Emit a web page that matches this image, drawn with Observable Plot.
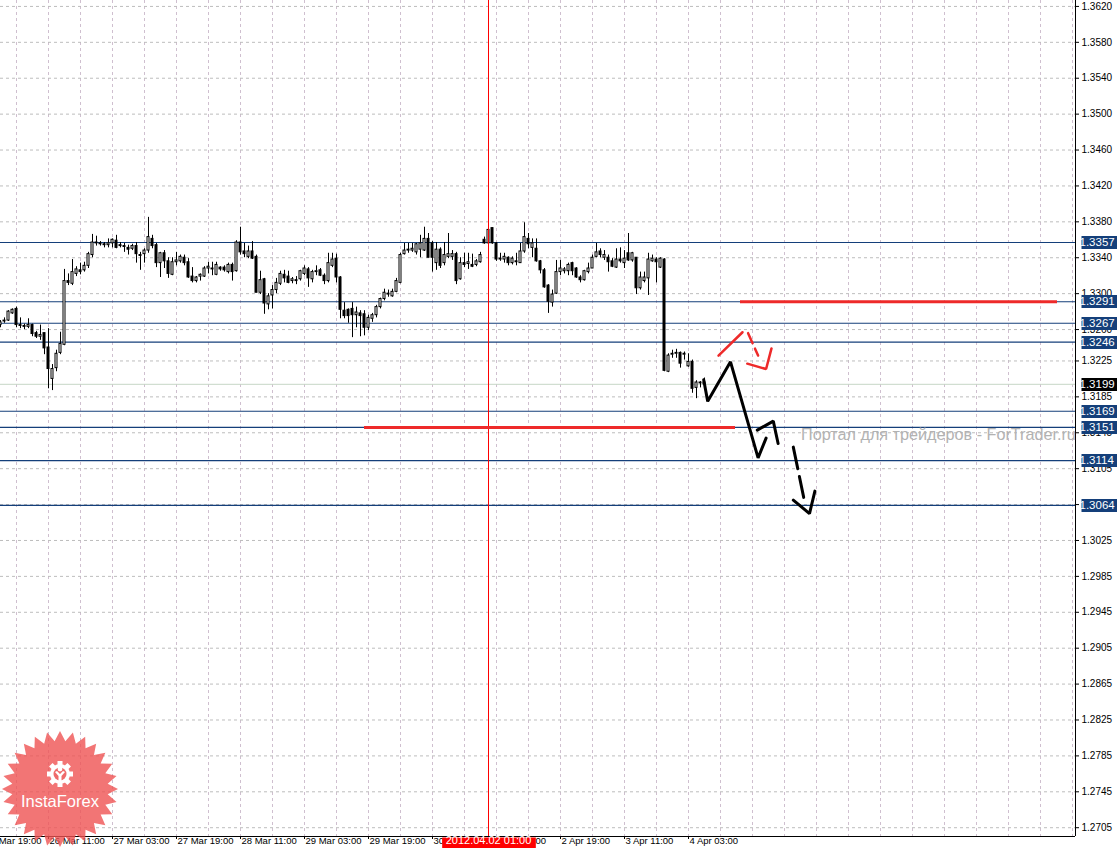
<!DOCTYPE html>
<html><head><meta charset="utf-8">
<script src="https://cdn.jsdelivr.net/npm/d3@7"></script>
<script src="https://cdn.jsdelivr.net/npm/@observablehq/plot@0.6"></script>
<style>
html,body{margin:0;padding:0;background:#fff;}
#wrap{position:relative;width:1117px;height:848px;overflow:hidden;background:#fff;}
#chart svg{display:block;}
#wm{position:absolute;left:801px;top:425px;font:16.2px "Liberation Sans",Arial,sans-serif;color:#b2b2b2;white-space:nowrap;pointer-events:none;}
#logo{position:absolute;left:0;top:726px;}
</style></head><body>
<div id="wrap"><div id="chart"></div><div id="wm">Портал для трейдеров - ForTrader.ru</div><svg id="logo"></svg></div>
<script>
// ---- H1 candles (bar index 0..176), prices ----
const open  = [1.3265,1.3270,1.3270,1.3278,1.3283,1.3265,1.3264,1.3263,1.3265,1.3256,1.3252,1.3256,1.3240,1.3205,1.3217,1.3234,1.3243,1.3314,1.3311,1.3322,1.3326,1.3326,1.3331,1.3343,1.3357,1.3356,1.3355,1.3354,1.3356,1.3359,1.3354,1.3353,1.3351,1.3350,1.3353,1.3343,1.3344,1.3348,1.3361,1.3354,1.3334,1.3345,1.3336,1.3321,1.3335,1.3336,1.3340,1.3335,1.3319,1.3314,1.3319,1.3319,1.3328,1.3328,1.3321,1.3329,1.3329,1.3324,1.3332,1.3325,1.3357,1.3347,1.3341,1.3347,1.3341,1.3301,1.3316,1.3288,1.3298,1.3304,1.3311,1.3321,1.3319,1.3314,1.3315,1.3316,1.3322,1.3327,1.3316,1.3324,1.3326,1.3320,1.3314,1.3331,1.3339,1.3318,1.3281,1.3282,1.3283,1.3276,1.3278,1.3277,1.3262,1.3272,1.3276,1.3285,1.3294,1.3300,1.3297,1.3302,1.3312,1.3344,1.3348,1.3348,1.3346,1.3349,1.3348,1.3361,1.3356,1.3334,1.3349,1.3334,1.3341,1.3341,1.3344,1.3316,1.3334,1.3333,1.3332,1.3332,1.3335,1.3360,1.3356,1.3373,1.3356,1.3338,1.3338,1.3340,1.3334,1.3336,1.3334,1.3347,1.3361,1.3351,1.3350,1.3336,1.3326,1.3309,1.3290,1.3300,1.3324,1.3325,1.3325,1.3334,1.3328,1.3318,1.3315,1.3324,1.3328,1.3341,1.3347,1.3340,1.3340,1.3336,1.3329,1.3338,1.3334,1.3345,1.3337,1.3340,1.3306,1.3314,1.3317,1.3336,1.3338,1.3329,1.3338,1.3213,1.3232,1.3233,1.3234,1.3232,1.3219,1.3224,1.3195,1.3200,1.3201];
const high  = [1.3270,1.3273,1.3281,1.3283,1.3285,1.3273,1.3266,1.3272,1.3266,1.3258,1.3265,1.3256,1.3261,1.3221,1.3237,1.3257,1.3327,1.3322,1.3338,1.3330,1.3334,1.3335,1.3346,1.3366,1.3364,1.3358,1.3357,1.3361,1.3361,1.3365,1.3357,1.3356,1.3354,1.3355,1.3357,1.3346,1.3350,1.3385,1.3365,1.3356,1.3346,1.3348,1.3340,1.3340,1.3346,1.3343,1.3343,1.3339,1.3329,1.3319,1.3322,1.3330,1.3335,1.3335,1.3335,1.3330,1.3331,1.3334,1.3334,1.3359,1.3374,1.3356,1.3353,1.3358,1.3343,1.3325,1.3317,1.3300,1.3309,1.3317,1.3325,1.3326,1.3325,1.3318,1.3319,1.3326,1.3331,1.3329,1.3326,1.3331,1.3328,1.3322,1.3345,1.3345,1.3344,1.3319,1.3290,1.3283,1.3290,1.3285,1.3281,1.3281,1.3276,1.3278,1.3287,1.3295,1.3305,1.3304,1.3305,1.3317,1.3345,1.3356,1.3356,1.3356,1.3356,1.3365,1.3374,1.3367,1.3358,1.3357,1.3351,1.3357,1.3367,1.3348,1.3346,1.3340,1.3345,1.3345,1.3344,1.3338,1.3346,1.3363,1.3375,1.3373,1.3357,1.3345,1.3345,1.3341,1.3341,1.3345,1.3356,1.3379,1.3367,1.3361,1.3361,1.3337,1.3328,1.3310,1.3304,1.3337,1.3337,1.3329,1.3334,1.3335,1.3329,1.3320,1.3326,1.3334,1.3343,1.3356,1.3350,1.3348,1.3343,1.3339,1.3350,1.3351,1.3348,1.3367,1.3346,1.3340,1.3324,1.3324,1.3345,1.3343,1.3340,1.3340,1.3339,1.3233,1.3237,1.3238,1.3235,1.3235,1.3233,1.3226,1.3203,1.3202,1.3206];
const low   = [1.3262,1.3267,1.3269,1.3277,1.3262,1.3261,1.3260,1.3261,1.3252,1.3250,1.3248,1.3232,1.3194,1.3192,1.3213,1.3232,1.3242,1.3309,1.3309,1.3319,1.3321,1.3324,1.3328,1.3340,1.3353,1.3353,1.3351,1.3351,1.3351,1.3350,1.3351,1.3346,1.3343,1.3348,1.3334,1.3326,1.3334,1.3345,1.3350,1.3329,1.3318,1.3328,1.3317,1.3320,1.3331,1.3334,1.3331,1.3317,1.3312,1.3312,1.3314,1.3318,1.3322,1.3320,1.3320,1.3325,1.3324,1.3322,1.3314,1.3324,1.3343,1.3340,1.3339,1.3338,1.3301,1.3299,1.3277,1.3282,1.3283,1.3300,1.3309,1.3312,1.3311,1.3311,1.3310,1.3314,1.3320,1.3307,1.3312,1.3320,1.3319,1.3310,1.3312,1.3329,1.3312,1.3272,1.3272,1.3267,1.3251,1.3262,1.3252,1.3253,1.3259,1.3268,1.3273,1.3283,1.3292,1.3296,1.3296,1.3301,1.3311,1.3343,1.3345,1.3346,1.3343,1.3340,1.3347,1.3340,1.3324,1.3326,1.3328,1.3331,1.3339,1.3337,1.3310,1.3315,1.3329,1.3327,1.3329,1.3330,1.3334,1.3355,1.3354,1.3355,1.3336,1.3336,1.3334,1.3331,1.3332,1.3331,1.3334,1.3345,1.3350,1.3340,1.3335,1.3322,1.3306,1.3278,1.3285,1.3299,1.3320,1.3322,1.3320,1.3320,1.3317,1.3312,1.3314,1.3322,1.3328,1.3340,1.3340,1.3337,1.3324,1.3329,1.3328,1.3334,1.3328,1.3336,1.3335,1.3299,1.3304,1.3312,1.3298,1.3335,1.3312,1.3328,1.3213,1.3212,1.3228,1.3228,1.3217,1.3226,1.3218,1.3189,1.3183,1.3195,1.3192];
const close = [1.3268,1.3269,1.3280,1.3282,1.3265,1.3264,1.3263,1.3265,1.3255,1.3252,1.3254,1.3239,1.3216,1.3216,1.3233,1.3244,1.3314,1.3312,1.3324,1.3327,1.3324,1.3331,1.3344,1.3357,1.3356,1.3355,1.3354,1.3356,1.3360,1.3351,1.3353,1.3352,1.3349,1.3353,1.3344,1.3342,1.3348,1.3363,1.3353,1.3334,1.3345,1.3336,1.3322,1.3335,1.3337,1.3341,1.3334,1.3318,1.3314,1.3318,1.3321,1.3328,1.3330,1.3327,1.3332,1.3327,1.3326,1.3332,1.3324,1.3357,1.3346,1.3344,1.3347,1.3339,1.3301,1.3315,1.3289,1.3297,1.3304,1.3312,1.3322,1.3317,1.3312,1.3316,1.3314,1.3325,1.3328,1.3317,1.3324,1.3325,1.3320,1.3314,1.3334,1.3338,1.3318,1.3282,1.3275,1.3275,1.3276,1.3279,1.3275,1.3262,1.3273,1.3276,1.3285,1.3294,1.3301,1.3299,1.3302,1.3314,1.3343,1.3348,1.3349,1.3350,1.3355,1.3356,1.3361,1.3340,1.3340,1.3349,1.3331,1.3343,1.3344,1.3344,1.3314,1.3334,1.3332,1.3335,1.3330,1.3336,1.3343,1.3356,1.3371,1.3356,1.3338,1.3339,1.3341,1.3334,1.3339,1.3335,1.3347,1.3363,1.3355,1.3356,1.3336,1.3326,1.3307,1.3291,1.3299,1.3324,1.3328,1.3327,1.3332,1.3325,1.3318,1.3315,1.3325,1.3328,1.3340,1.3346,1.3343,1.3343,1.3335,1.3330,1.3338,1.3336,1.3339,1.3337,1.3345,1.3306,1.3318,1.3318,1.3338,1.3339,1.3335,1.3339,1.3214,1.3231,1.3233,1.3234,1.3222,1.3233,1.3224,1.3194,1.3201,1.3201,1.3199];

// price axis ticks and time axis labels
const priceTicks = [1.3620,1.3580,1.3540,1.3500,1.3460,1.3420,1.3380,1.3340,1.3300,1.3260,1.3225,1.3185,1.3145,1.3105,1.3065,1.3025,1.2985,1.2945,1.2905,1.2865,1.2825,1.2785,1.2745,1.2705];
const timeLabels = ["25 Mar 19:00","26 Mar 11:00","27 Mar 03:00","27 Mar 19:00","28 Mar 11:00","29 Mar 03:00","29 Mar 19:00","30 Mar 11:00","2 Apr 03:00","2 Apr 19:00","3 Apr 11:00","4 Apr 03:00"];
const timeLabelBars = [-4,12,28,44,60,76,92,108,124,140,156,172];

// horizontal levels (blue lines with price boxes) and current bid
const levels = [1.3357,1.3291,1.3267,1.3246,1.3169,1.3151,1.3114,1.3064];
const bid = 1.3199;

// red vertical cursor
const cursorBar = 122;
const cursorLabel = "2012.04.02 01:00";

// hand-drawn annotations (bar index, price)
const redLevelPrices = [1.3291, 1.3151];
const redLevelFrom   = [185, 91];
const redLevelTo     = [264.25, 183.75];
const redUp     = [{i:179.5,p:1.3231},{i:185.5,p:1.3257}];
const redDown   = [{i:186.9,p:1.3256},{i:189.4,p:1.3231}];
const redHook   = [{i:186.7,p:1.3222},{i:191.4,p:1.3216},{i:192.75,p:1.3239}];
const blackZig  = [{i:175.8,p:1.3204},{i:176.8,p:1.3180},{i:182.5,p:1.3224},{i:189.4,p:1.3117},{i:191.4,p:1.3139}];
const blackHat  = [{i:189.2,p:1.3148},{i:193.2,p:1.3158},{i:194.4,p:1.3133}];
const blackDash = [{i:198.2,p:1.3129},{i:200.8,p:1.3073}];
const blackHook = [{i:198.2,p:1.3070},{i:202.25,p:1.3055},{i:203.6,p:1.3080}];

// ---- build tables ----
const candles = open.map((o, i) => ({i, o, h: high[i], l: low[i], c: close[i]}));
const timeTable = timeLabelBars.map((b, k) => ({b, t: timeLabels[k]}));
const redLevels = redLevelPrices.map((p, k) => ({p, i1: redLevelFrom[k], i2: redLevelTo[k]}));
const gridBars = d3.range(4, 269, 8);

const NAVY = "#143f7a";
const fmt = d3.format(".4f");
const svg = Plot.plot({
  width: 1117, height: 848,
  marginLeft: 0, marginRight: 42, marginTop: 0, marginBottom: 12,
  style: {background: "white", fontFamily: "'Liberation Sans', Arial, sans-serif", fontSize: "10px", color: "black"},
  x: {domain: [0, 268.75], axis: "bottom", ticks: timeLabelBars.filter(b => b >= 0), tickSize: 3, tickFormat: () => "", label: null},
  y: {domain: [1.26952, 1.36266], axis: "right", ticks: priceTicks, tickFormat: fmt, tickSize: 3, tickPadding: 3, label: null},
  marks: [
    Plot.ruleX(gridBars, {stroke: "#cfbfcf", strokeDasharray: "3,3"}),
    Plot.ruleY(priceTicks, {stroke: "#bdbdbd", strokeDasharray: "3,3"}),
    Plot.ruleY([bid], {stroke: "#c6d6c6"}),
    Plot.ruleY(levels, {stroke: NAVY, strokeWidth: 1.2}),
    Plot.ruleX(candles, {x: "i", y1: "l", y2: "h", stroke: "black", strokeWidth: 1}),
    Plot.rect(candles, {
      x1: d => d.i - 0.25, x2: d => d.i + 0.25,
      y1: "o", y2: d => (Math.abs(d.c - d.o) < 0.00002 ? d.o + 0.00003 : d.c),
      fill: d => d.c >= d.o ? "white" : "black", stroke: "black", strokeWidth: 1
    }),
    Plot.ruleX([cursorBar], {stroke: "#ff0000", strokeWidth: 1}),
    Plot.ruleY(redLevels, {y: "p", x1: "i1", x2: "i2", stroke: "#ee2a2a", strokeWidth: 3}),
    Plot.line(redUp, {x: "i", y: "p", stroke: "#ee2a2a", strokeWidth: 2.5}),
    Plot.line(redDown, {x: "i", y: "p", stroke: "#ee2a2a", strokeWidth: 2.5, strokeDasharray: "11,6"}),
    Plot.line(redHook, {x: "i", y: "p", stroke: "#ee2a2a", strokeWidth: 2.5, strokeLinejoin: "miter"}),
    Plot.line(blackZig, {x: "i", y: "p", stroke: "black", strokeWidth: 3, strokeLinejoin: "miter"}),
    Plot.line(blackHat, {x: "i", y: "p", stroke: "black", strokeWidth: 3, strokeLinejoin: "miter"}),
    Plot.line(blackDash, {x: "i", y: "p", stroke: "black", strokeWidth: 3, strokeDasharray: "22,8"}),
    Plot.line(blackHook, {x: "i", y: "p", stroke: "black", strokeWidth: 3, strokeLinejoin: "miter"}),
    Plot.ruleX([268.75], {stroke: "black"}),
    Plot.ruleY([1.26952], {stroke: "black"}),
    Plot.text(timeTable, {x: "b", text: "t", frameAnchor: "bottom", lineAnchor: "top", textAnchor: "start", dx: 1, dy: 1, fill: "black", fontSize: 9.5}),
    Plot.text(levels, {y: d => d, text: d => fmt(d), frameAnchor: "right", textAnchor: "start", dx: 4, fill: "white", fontSize: 11.5}),
    Plot.text([bid], {y: d => d, text: d => fmt(d), frameAnchor: "right", textAnchor: "start", dx: 4, fill: "white", fontSize: 11.5}),
    Plot.text([cursorBar], {x: d => d, text: () => cursorLabel, frameAnchor: "bottom", lineAnchor: "top", dy: 0, fill: "white", fontSize: 11})
  ]
});
document.getElementById("chart").appendChild(svg);

// background boxes behind the price / time boxes (matched by their text)
const levelStrings = new Set(levels.map(fmt));
const bidString = fmt(bid);
const svgBox = svg.getBoundingClientRect();
function boxFor(t, fill, fixedX, fixedW, padX, yTop, yH) {
  const b = t.getBoundingClientRect();
  const r = document.createElementNS("http://www.w3.org/2000/svg", "rect");
  const x = fixedX != null ? fixedX : b.left - svgBox.left - padX;
  const w = fixedW != null ? fixedW : b.width + 2 * padX;
  const y = yTop != null ? yTop : Math.round(b.top - svgBox.top) - 0.5;
  const h = yH != null ? yH : Math.round(b.height) + 1;
  r.setAttribute("x", x); r.setAttribute("y", y);
  r.setAttribute("width", w); r.setAttribute("height", h);
  r.setAttribute("fill", fill);
  t.parentNode.insertBefore(r, t);
}
Array.from(svg.querySelectorAll("text")).forEach(t => {
  const s = t.textContent;
  const g = t.closest("g");
  const isWhite = g && (g.getAttribute("fill") === "white" || t.getAttribute("fill") === "white");
  if (!isWhite) return;
  if (levelStrings.has(s)) boxFor(t, NAVY, 1077, 40, 0);
  else if (s === bidString) boxFor(t, "black", 1077, 40, 0);
  else if (s === cursorLabel) boxFor(t, "#ff0000", null, null, 4, 837, 11);
});

// InstaForex badge
const logo = d3.select("#logo").attr("width", 125).attr("height", 125);
const cx = 60, cy = 63, R = 58, r0 = 48, n = 28;
const star = d3.range(n * 2).map(k => {
  const a = Math.PI * k / n - Math.PI / 2;
  const rad = k % 2 ? r0 : R;
  return [cx + rad * Math.cos(a), cy + rad * Math.sin(a)].join(",");
});
logo.append("polygon").attr("points", star.join(" ")).attr("fill", "#ef5252").attr("fill-opacity", 0.8);
const gear = logo.append("g").attr("transform", "translate(60,48)");
d3.range(8).forEach(k => {
  gear.append("rect").attr("x", -2.5).attr("y", -13).attr("width", 5).attr("height", 5)
    .attr("fill", "white").attr("transform", `rotate(${k * 45})`);
});
gear.append("circle").attr("r", 10).attr("fill", "white");
gear.append("circle").attr("r", 6.5).attr("fill", "#ef6a6a");
gear.append("circle").attr("cx", 0).attr("cy", -5).attr("r", 2.4).attr("fill", "white");
gear.append("path").attr("d", "M-5,-2 L-1.5,2 L-1.5,9 L1.5,9 L1.5,2 L5,-2 L3,-3 L0,0 L-3,-3 Z").attr("fill", "white");
logo.append("text").attr("x", 60).attr("y", 81).attr("text-anchor", "middle")
  .attr("fill", "white").attr("font-family", "'Liberation Sans', Arial, sans-serif").attr("font-size", 16.5).text("InstaForex");
</script>
</body></html>
